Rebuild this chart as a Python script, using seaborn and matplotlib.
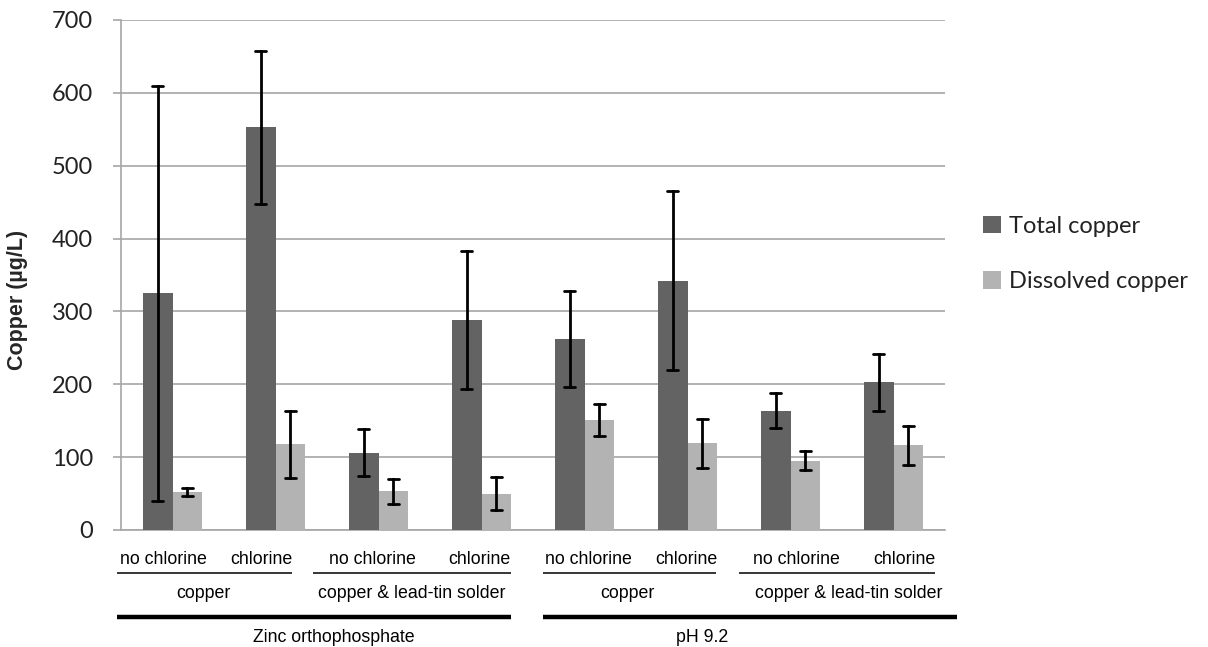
import numpy as np
import pandas as pd
import matplotlib
matplotlib.use("Agg")
import matplotlib.pyplot as plt
import matplotlib.transforms as mtransforms
import seaborn as sns

# ---- data ----
treatment = ["Zinc orthophosphate"] * 4 + ["pH 9.2"] * 4
material = ["copper", "copper", "copper & lead-tin solder", "copper & lead-tin solder"] * 2
chlorine = ["no chlorine", "chlorine"] * 4
series = ["Total copper", "Dissolved copper"]
total = [325, 553, 106, 288, 262, 342, 164, 203]
total_err = [285, 105, 32, 95, 66, 123, 24, 39]
dissolved = [52, 118, 53, 50, 151, 119, 95, 116]
dissolved_err = [5, 46, 17, 23, 22, 34, 13, 27]
yticks = [0, 100, 200, 300, 400, 500, 600, 700]

# long-form table: each bar gets (value - err, value + err) so that the
# mean is the value and the full range is the error bar
conds = [f"{t}|{m}|{c}|{i}" for i, (t, m, c) in enumerate(zip(treatment, material, chlorine))]
rows = []
for cnd, v, e in zip(conds, total, total_err):
    rows += [(cnd, series[0], v - e), (cnd, series[0], v + e)]
for cnd, v, e in zip(conds, dissolved, dissolved_err):
    rows += [(cnd, series[1], v - e), (cnd, series[1], v + e)]
df = pd.DataFrame(rows, columns=["cond", "series", "value"])

sns.set_style("white")
plt.rcParams["font.family"] = ["Lato", "DejaVu Sans"]

W, H = 1208, 647
fig = plt.figure(figsize=(W / 100, H / 100), dpi=100)
ax = fig.add_axes([121 / W, 117 / H, 824 / W, 510 / H])

dark, light = "#636363", "#b3b3b3"
grid_c = "#a6a6a6"

sns.barplot(data=df, x="cond", y="value", hue="series", order=conds,
            hue_order=series, palette=[dark, light], width=0.57, gap=0,
            errorbar=("pi", 100), capsize=0.22,
            err_kws={"color": "black", "linewidth": 2.0, "zorder": 5},
            saturation=1, linewidth=0, ax=ax, zorder=3)

ax.set_ylim(0, 700)
ax.set_xlim(-0.5, len(conds) - 0.5)
ax.set_yticks(yticks)
ax.set_yticklabels([str(t) for t in yticks], fontsize=17, color="#222222")
ax.yaxis.grid(True, color=grid_c, linewidth=1.2, zorder=0)
ax.set_axisbelow(True)
ax.set_xticks(range(len(conds)))
ax.set_xticklabels([])
ax.set_xticks(np.arange(-0.5, len(conds), 1.0), minor=True)
ax.tick_params(axis="x", which="major", length=0)
ax.tick_params(axis="x", which="minor", length=6, width=1.2, color=grid_c, direction="out")
ax.tick_params(axis="y", length=6, width=1.2, color=grid_c, pad=14, direction="out", left=True)
ax.set_xlabel("")
ax.set_ylabel("")
for s in ["top", "right"]:
    ax.spines[s].set_visible(False)
for s in ["left", "bottom"]:
    ax.spines[s].set_color(grid_c)
    ax.spines[s].set_linewidth(1.2)

# make sure error bars sit above the bars
for ln in ax.lines:
    ln.set_zorder(5)

# legend
handles, labels = ax.get_legend_handles_labels()
if ax.get_legend() is not None:
    ax.get_legend().remove()
fig.legend(handles, labels, loc="center left",
           bbox_to_anchor=(962 / W, 1 - 254 / H), frameon=False,
           prop={"family": "Lato", "size": 17}, handlelength=0.75,
           handleheight=0.75, handletextpad=0.35, labelspacing=1.45,
           labelcolor="#222222")

fig.text(18 / W, 1 - 300 / H, "Copper (\u00b5g/L)", rotation=90, ha="center",
         va="center", fontsize=15.5, fontweight="bold", family="Liberation Sans")

# hierarchical x labels
tr = mtransforms.blended_transform_factory(ax.transData, fig.transFigure)
lab_font = {"family": "Liberation Sans", "size": 12.8, "color": "black"}
fy = lambda py: 1 - py / H

lvl1_shift = [-0.09, -0.14, -0.06, -0.02, 0.04, -0.015, 0.06, 0.11]
for i, c in enumerate(chlorine):
    ax.text(i + lvl1_shift[i], fy(559), c, transform=tr, ha="center", va="center",
            clip_on=False, **lab_font)

lvl2_spans = [(-0.54, 1.16), (1.36, 3.29), (3.60, 5.28), (5.50, 7.40)]
lvl2_pos = [0.296, 2.325, 4.413, 6.568]
lvl2_names = [material[0], material[2], material[4], material[6]]
for (a, b), p, n in zip(lvl2_spans, lvl2_pos, lvl2_names):
    ax.plot([a, b], [fy(573), fy(573)], transform=tr, color="black",
            linewidth=1.1, clip_on=False, solid_capstyle="butt")
    ax.text(p, fy(594), n, transform=tr, ha="center", va="center",
            clip_on=False, **lab_font)

lvl3_spans = [(-0.54, 3.29), (3.60, 7.62)]
lvl3_pos = [1.568, 5.141]
lvl3_names = [treatment[0], treatment[4]]
for (a, b), p, n in zip(lvl3_spans, lvl3_pos, lvl3_names):
    ax.plot([a, b], [fy(617), fy(617)], transform=tr, color="black",
            linewidth=3.2, clip_on=False, solid_capstyle="butt")
    ax.text(p, fy(637), n, transform=tr, ha="center", va="center",
            clip_on=False, **lab_font)

fig.savefig("out.png", dpi=100)
